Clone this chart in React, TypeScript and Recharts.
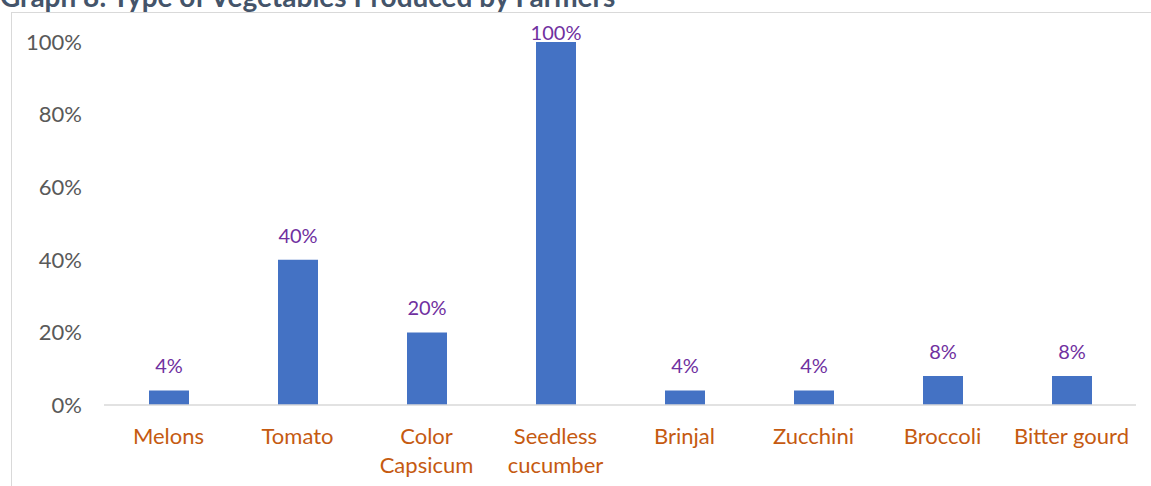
import { Bar, BarChart, LabelList, XAxis, YAxis } from "recharts";

const categories = [
  "Melons",
  "Tomato",
  "Color Capsicum",
  "Seedless cucumber",
  "Brinjal",
  "Zucchini",
  "Broccoli",
  "Bitter gourd",
];
const shares = [0.04, 0.4, 0.2, 1.0, 0.04, 0.04, 0.08, 0.08];
const yTicks = [0, 0.2, 0.4, 0.6, 0.8, 1];

const data = categories.map((name, i) => ({ name, share: shares[i] }));

const FONT = "Lato, 'Open Sans', sans-serif";
const pct = (v: number) => `${Math.round(v * 100)}%`;

function CategoryTick({ x, y, payload }: any) {
  const label: string = payload.value;
  // long names wrap onto two lines like the original
  const lines = label.length > 12 ? label.split(" ") : [label];
  return (
    <text
      x={x}
      y={y}
      textAnchor="middle"
      fill="#C55A11"
      fontSize={22}
      fontFamily={FONT}
    >
      {lines.map((line, i) => (
        <tspan key={i} x={x} dy={i === 0 ? 31 : 29}>
          {line}
        </tspan>
      ))}
    </text>
  );
}

function ValueLabel({ x, y, width, value }: any) {
  const cy = Math.max(y - 25, 32);
  return (
    <text
      x={x + width / 2}
      y={cy}
      textAnchor="middle"
      dominantBaseline="central"
      fill="#7030A0"
      fontSize={20}
      fontFamily={FONT}
    >
      {pct(value)}
    </text>
  );
}

export default function App() {
  return (
    <div
      style={{
        position: "absolute",
        left: 0,
        top: 0,
        width: 1151,
        height: 486,
        overflow: "hidden",
        background: "#fff",
      }}
    >
      <div
        style={{
          position: "absolute",
          left: 0,
          top: -21,
          fontFamily: FONT,
          fontWeight: 700,
          fontSize: 28,
          color: "#44546A",
          whiteSpace: "nowrap",
        }}
      >
        Graph 8: Type of Vegetables Produced by Farmers
      </div>
      <div
        style={{
          position: "absolute",
          left: 11,
          top: 12,
          width: 1160,
          height: 490,
          border: "1px solid #D9D9D9",
        }}
      />
      <div style={{ position: "absolute", left: 0, top: 0 }}>
        <BarChart
          width={1151}
          height={486}
          data={data}
          margin={{ top: 42, right: 15, left: 0, bottom: 0 }}
          barCategoryGap={0}
        >
          <XAxis
            dataKey="name"
            height={81}
            interval={0}
            tickLine={false}
            axisLine={{ stroke: "#D9D9D9", strokeWidth: 1.5 }}
            tick={<CategoryTick />}
          />
          <YAxis
            width={104}
            domain={[0, 1]}
            ticks={yTicks}
            tickFormatter={pct}
            axisLine={false}
            tickLine={false}
            tickMargin={16}
            tick={{ fill: "#595959", fontSize: 22, fontFamily: FONT }}
          />
          <Bar dataKey="share" fill="#4472C4" barSize={40} isAnimationActive={false}>
            <LabelList dataKey="share" content={<ValueLabel />} />
          </Bar>
        </BarChart>
      </div>
    </div>
  );
}
